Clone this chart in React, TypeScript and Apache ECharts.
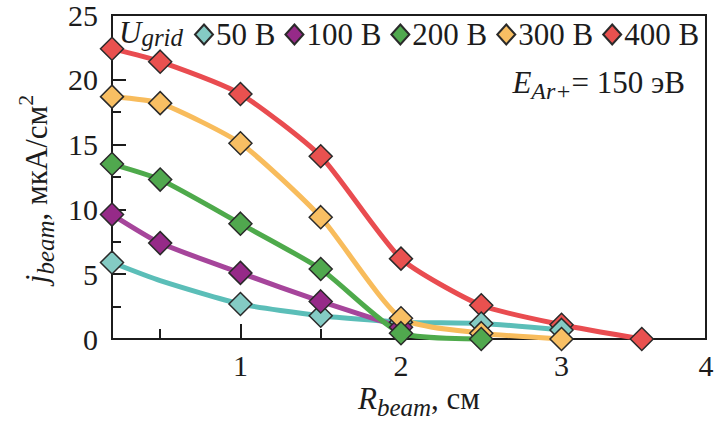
import React, { useEffect, useRef } from 'react';
import * as echarts from 'echarts';

// R_beam, cm
const radius = [0.2, 0.5, 1, 1.5, 2, 2.5, 3, 3.5];
// j_beam, uA/cm^2 for each grid voltage
const j50 = [5.9, 4.5, 2.7, 1.8, 1.3, 1.2, 0.7];
const j100 = [9.6, 7.4, 5.1, 2.9, 0.9];
const j200 = [13.5, 12.3, 8.9, 5.4, 0.45, 0];
const j300 = [18.7, 18.2, 15.1, 9.4, 1.6, 0.45, 0];
const j400 = [22.4, 21.4, 18.9, 14.1, 6.2, 2.6, 1.1, 0];
const j50NoMarker = [1];
const names = ['50 В', '100 В', '200 В', '300 В', '400 В'];
const xMajorTicks = [1, 2, 3];
const xMinorTicks = [0.5, 1.5, 2.5];
const xEdgeLabel = '4';

const FONT = 'Liberation Serif';
const INK = '#1c1c1c';

const lineColors = ['#5bbeb8', '#a6459b', '#4eaa4b', '#f8bc5c', '#e94c50'];
const markColors = ['#84cbc4', '#962a88', '#50a84e', '#f8bf63', '#e9514f'];

function build(vals: number[], hidden: number[] = []) {
  return vals.map((v, i) =>
    hidden.includes(i) ? { value: [radius[i], v], symbol: 'none' } : { value: [radius[i], v] }
  );
}

export default function App() {
  const ref = useRef<HTMLDivElement>(null);
  useEffect(() => {
    if (!ref.current) return;
    const chart = echarts.init(ref.current, undefined, { renderer: 'svg' });
    const X_MIN = 0.2;
    const X_MAX = 3.9;
    const mk = (idx: number, data: any[]) => ({
      name: names[idx],
      type: 'line',
      data,
      smooth: 0.2,
      clip: false,
      symbol: 'diamond',
      symbolSize: 23,
      lineStyle: { color: lineColors[idx], width: 5 },
      itemStyle: { color: markColors[idx], borderColor: '#2a2a2a', borderWidth: 1.5 },
      emphasis: { disabled: true },
    });
    const series = [
      mk(4, build(j400)),
      mk(0, build(j50, j50NoMarker)),
      mk(1, build(j100)),
      mk(3, build(j300)),
      mk(2, build(j200)),
    ];
    const option: any = {
      animation: false,
      grid: {
        left: 112, right: 19, top: 15, bottom: 85,
        show: true, borderColor: INK, borderWidth: 2, backgroundColor: 'transparent',
      },
      legend: {
        data: names,
        left: 194, top: 19, padding: 0,
        icon: 'diamond', itemWidth: 18, itemHeight: 20, itemGap: 9,
        selectedMode: false,
        textStyle: { fontFamily: FONT, fontSize: 31, color: INK, padding: [0, 0, 0, -2] },
      },
      xAxis: [
        {
          type: 'value', min: X_MIN, max: X_MAX,
          axisLine: { show: true, lineStyle: { color: INK, width: 2 } },
          axisTick: { show: true, inside: true, length: 15, customValues: xMajorTicks, lineStyle: { color: INK, width: 2 } },
          axisLabel: {
            customValues: [...xMajorTicks, X_MAX],
            formatter: (v: number) => (v > 3.5 ? xEdgeLabel : String(v)),
            fontFamily: FONT, fontSize: 30, color: INK, margin: 11,
          },
          splitLine: { show: false },
        },
        {
          type: 'value', min: X_MIN, max: X_MAX, position: 'bottom',
          axisLine: { show: false },
          axisTick: { show: true, inside: true, length: 10, customValues: xMinorTicks, lineStyle: { color: INK, width: 2 } },
          axisLabel: { show: false },
          splitLine: { show: false },
        },
      ],
      yAxis: {
        type: 'value', min: 0, max: 25, interval: 5,
        axisLine: { show: true, lineStyle: { color: INK, width: 2 } },
        axisTick: { show: true, inside: true, length: 14, lineStyle: { color: INK, width: 2 } },
        minorTick: { show: true, splitNumber: 2, length: 9, lineStyle: { color: INK, width: 2 } },
        axisLabel: { fontFamily: FONT, fontSize: 30, color: INK, margin: 14, padding: [10, 0, 0, 0] },
        splitLine: { show: false },
        minorSplitLine: { show: false },
      },
      graphic: [
        {
          type: 'text', x: 119, y: 32, silent: true,
          style: {
            text: '{m|U}{s|grid}',
            fill: INK,
            textAlign: 'left', align: 'left', textVerticalAlign: 'middle', verticalAlign: 'middle',
            rich: {
              m: { fontFamily: FONT, fontSize: 31, fontStyle: 'italic', lineHeight: 35, fill: INK },
              s: { fontFamily: FONT, fontSize: 25, fontStyle: 'italic', verticalAlign: 'bottom', fill: INK },
            },
          },
        },
        {
          type: 'text', x: 685, y: 82, silent: true,
          style: {
            text: '{m|E}{s|Ar+}{n|= 150 эВ}',
            fill: INK,
            textAlign: 'right', align: 'right', textVerticalAlign: 'middle', verticalAlign: 'middle',
            rich: {
              m: { fontFamily: FONT, fontSize: 31, fontStyle: 'italic', lineHeight: 41, fill: INK },
              s: { fontFamily: FONT, fontSize: 24, fontStyle: 'italic', verticalAlign: 'bottom', fill: INK },
              n: { fontFamily: FONT, fontSize: 31, lineHeight: 41, fill: INK },
            },
          },
        },
        {
          type: 'text', x: 419, y: 398, silent: true,
          style: {
            text: '{m|R}{s|beam}{n|, см}',
            fill: INK,
            textAlign: 'center', align: 'center', textVerticalAlign: 'middle', verticalAlign: 'middle',
            rich: {
              m: { fontFamily: FONT, fontSize: 31, fontStyle: 'italic', lineHeight: 43, fill: INK },
              s: { fontFamily: FONT, fontSize: 25, fontStyle: 'italic', verticalAlign: 'bottom', fill: INK },
              n: { fontFamily: FONT, fontSize: 31, lineHeight: 43, fill: INK },
            },
          },
        },
        {
          type: 'text', x: 36, y: 189, rotation: Math.PI / 2, silent: true,
          style: {
            text: '{m|j}{s|beam}{n|, мкА/см}{p|2}',
            fill: INK,
            textAlign: 'center', align: 'center', textVerticalAlign: 'middle', verticalAlign: 'middle',
            rich: {
              m: { fontFamily: FONT, fontSize: 31, fontStyle: 'italic', lineHeight: 43, fill: INK },
              s: { fontFamily: FONT, fontSize: 25, fontStyle: 'italic', verticalAlign: 'bottom', fill: INK },
              n: { fontFamily: FONT, fontSize: 31, lineHeight: 43, fill: INK },
              p: { fontFamily: FONT, fontSize: 22, verticalAlign: 'top', fill: INK },
            },
          },
        },
      ],
      series,
    };
    chart.setOption(option);
    return () => chart.dispose();
  }, []);
  return <div ref={ref} style={{ width: 725, height: 424, position: 'absolute', left: 0, top: 0 }} />;
}
